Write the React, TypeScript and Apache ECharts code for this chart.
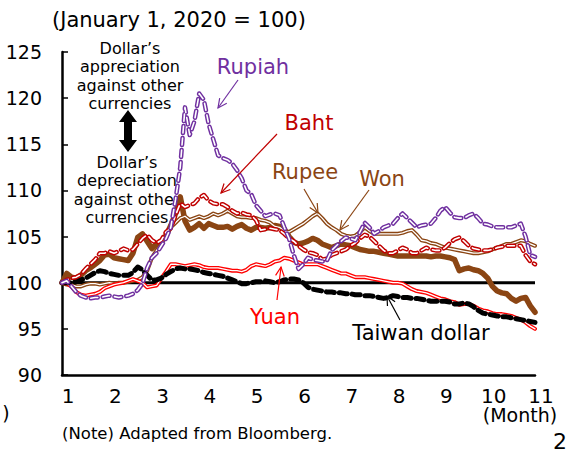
import React, { useEffect, useRef } from "react";
import * as echarts from "echarts";

const FONT = "DejaVu Sans";
const PURPLE = "#7030A0";
const DARKRED = "#C00000";
const RED = "#FF0000";
const BROWN = "#8B4513";

// x positions in months (1 = January 1)
const months: number[] = Array.from({ length: 101 }, (_, i) => +(1 + i * 0.1).toFixed(1));
const xTicks = [1, 2, 3, 4, 5, 6, 7, 8, 9, 10, 11];
const yTicks = [90, 95, 100, 105, 110, 115, 120, 125];

const rupiah = [
  100, 100.2, 99.6, 99, 98.6, 98.4, 98.3, 98.4, 98.4, 98.5,
  98.6, 98.5, 98.4, 98.5, 98.6, 98.8, 99.2, 99.9, 101.6, 102.7,
  103.2, 104, 104.8, 106, 109, 112.5, 119, 116, 117.5, 120.5,
  119.8, 117.2, 115.5, 113.8, 113.5, 113.3, 112.9, 112.2, 111.3, 110,
  109.6, 108.4, 107.8, 107.2, 107.4, 107.5, 107.3, 106, 104.8, 103,
  101.5, 102, 102.7, 102.5, 102.4, 102.3, 102.4, 103.5, 104, 104.5,
  104.9, 104.8, 104.6, 105.5, 106.5, 106, 105.3, 105.6, 106, 106.2,
  106.4, 107, 107.5, 107, 106.5, 106, 106.2, 106.3, 106.4, 107,
  107.8, 108.2, 107.6, 107.1, 107, 107, 107.3, 107.5, 107, 106.4,
  106.3, 106.1, 106, 106, 106, 106, 106.2, 106.4, 105, 103, 102.8,
];

const baht = [
  100, 100.3, 100.5, 100.6, 100.9, 101.5, 102, 102.5, 103.2, 103.2,
  103.4, 103.2, 103.4, 103.7, 103.5, 103.6, 104.2, 104.8, 105.2, 104.6,
  104.3, 104.6, 105.5, 105.9, 107.3, 108.6, 108.2, 108.4, 108.6, 109.2,
  109.5, 108.9, 108.6, 108.5, 108.5, 108.2, 107.8, 107.5, 107.6, 107.4,
  107.3, 106.8, 105.7, 105.8, 105.9, 105.8, 105.7, 105.3, 104.8, 104.5,
  104, 103.6, 103.3, 103.2, 103, 102.5, 102.6, 103, 103.2, 103.4,
  103.6, 104, 104.3, 104.8, 105.2, 105, 104.5, 104, 103.5, 103.2,
  103.2, 103.5, 103.8, 103.6, 103.2, 103.2, 103.5, 103.8, 103.6, 103.5,
  103.5, 103.8, 104.3, 104.7, 104.9, 104.5, 104, 103.7, 103.6, 103.5,
  103.5, 103.6, 103.8, 103.9, 104, 104, 104, 104, 103, 102.3, 102,
];

const won = [
  100, 101, 100.6, 100.5, 100.8, 101.3, 101.6, 102, 102.4, 103,
  103.1, 102.7, 102.6, 102.5, 102.4, 103.2, 104.9, 105.3, 104.5, 103.7,
  104.2, 104.5, 105.1, 106.2, 107.5, 109.3, 106.7, 105.7, 106, 106.4,
  105.9, 106.4, 106.2, 106, 106, 106.1, 105.8, 106.1, 106.3, 105.9,
  105.7, 106, 106, 105.9, 106, 106.2, 106.1, 105.8, 105, 104.4,
  104.2, 104.3, 104.5, 104.8, 104.6, 104.2, 104, 103.8, 104, 104.2,
  104.1, 104, 103.8, 103.6, 103.5, 103.4, 103.4, 103.3, 103.2, 103.1,
  103, 102.9, 102.9, 102.9, 102.9, 102.9, 102.9, 102.9, 102.8, 102.9,
  102.9, 102.8, 102.7, 102.5, 101.3, 101.5, 101.6, 101.4, 101.3, 101,
  100.5, 99.6, 99.1, 98.9, 98.8, 98.3, 98, 98.3, 98.4, 97.5, 96.8,
];

const rupee = [
  100, 99.8, 99.8, 99.6, 99.6, 99.8, 99.9, 99.9, 99.8, 99.9,
  100, 99.9, 100, 100, 100.1, 100.2, 100.3, 100.6, 101.3, 102.7,
  103.5, 104.2, 105.2, 106, 106.5, 107, 107.2, 106.8, 107, 107.2,
  107, 107.2, 107.5, 107.3, 107.5, 107.8, 107.5, 107.2, 107.1, 107.1,
  107, 107, 106.8, 106.7, 106.5, 106.1, 106, 105.6, 105.5, 105.8,
  106.1, 106.4, 106.8, 107.2, 107.5, 107, 106.4, 106, 105.7, 105.3,
  105.1, 105, 105.1, 105.5, 106, 105.6, 105.3, 105.3, 105.3, 105.3,
  105.3, 105.3, 105.4, 105.6, 105.7, 105.2, 104.6, 104.5, 104.3, 104.2,
  104, 103.8, 103.7, 103.6, 103.5, 103.4, 103.3, 103.2, 103.2, 103.3,
  103.4, 103.6, 103.8, 104, 104.2, 104.2, 104.4, 104.6, 104.5, 104.2, 104,
];

const yuan = [
  100, 99.9, 99.6, 99, 98.7, 98.6, 98.7, 98.8, 99, 99.4,
  99.6, 99.8, 99.9, 100, 100.2, 100.4, 100.2, 100, 99.5, 99.6,
  99.7, 100.5, 101.2, 102, 102, 101.9, 101.8, 101.9, 102, 101.9,
  101.7, 101.6, 101.6, 101.6, 101.5, 101.4, 101.3, 101.3, 101.2, 101.4,
  101.8, 102, 101.9, 101.8, 102, 102.3, 102.4, 102.7, 102.6, 102.4,
  102.2, 102, 102, 102, 102, 101.8, 101.6, 101.4, 101.2, 101,
  101, 100.8, 100.6, 100.6, 100.6, 100.5, 100.4, 100.3, 100.2, 100.1,
  100, 100, 99.9, 99.6, 99.3, 99.1, 99, 98.9, 98.7, 98.5,
  98.3, 98.2, 98, 97.9, 97.6, 97.7, 97.7, 97.5, 97.2, 97,
  96.9, 96.7, 96.6, 96.6, 96.5, 96.4, 96.2, 96, 95.7, 95.3, 95,
];

const taiwan = [
  100, 100, 100, 100.1, 100.3, 100.5, 100.8, 101.1, 101.3, 101.2,
  101, 100.9, 100.8, 100.8, 100.8, 101.1, 101.7, 101.4, 100.8, 100.3,
  100.3, 100.5, 100.9, 101.2, 101.5, 101.6, 101.5, 101.5, 101.4, 101.3,
  101.1, 101, 100.9, 100.8, 100.7, 100.5, 100.3, 100.1, 99.9, 99.9,
  100, 100.1, 100.1, 100.2, 100.1, 100, 100.1, 100.3, 100.4, 100.4,
  100.3, 100, 99.5, 99.3, 99.2, 99.1, 99, 99, 98.9, 98.9,
  98.8, 98.8, 98.7, 98.7, 98.6, 98.6, 98.5, 98.4, 98.3, 98.4,
  98.6, 98.5, 98.4, 98.4, 98.3, 98.3, 98.2, 98.1, 98, 98,
  98, 98, 97.9, 97.7, 97.7, 97.8, 97.7, 97.4, 97, 96.7,
  96.6, 96.5, 96.4, 96.3, 96.3, 96.2, 96.1, 96, 95.9, 95.8, 95.7,
];

const baseline = 100;

function pairs(vals: number[]) {
  return vals.map((v, i) => [months[i], v]);
}

function line(name: string, vals: number[], color: string, width: number, type: any = "solid", z = 2) {
  return {
    type: "line",
    name,
    data: pairs(vals),
    showSymbol: false,
    symbol: "none",
    silent: true,
    z,
    lineStyle: { color, width, type, cap: "round", join: "round" },
  };
}

function arrow(x1: number, y1: number, x2: number, y2: number, color: string) {
  const ang = Math.atan2(y2 - y1, x2 - x1);
  const L = 10;
  const a = 0.45;
  const p1 = [x2 - L * Math.cos(ang - a), y2 - L * Math.sin(ang - a)];
  const p2 = [x2 - L * Math.cos(ang + a), y2 - L * Math.sin(ang + a)];
  return [
    { type: "line", z: 10, shape: { x1, y1, x2, y2 }, style: { stroke: color, lineWidth: 1.2 } },
    { type: "polyline", z: 10, shape: { points: [p1, [x2, y2], p2] }, style: { stroke: color, lineWidth: 1.2, fill: null } },
  ];
}

function label(text: string, x: number, y: number, color: string, size = 21, extra: any = {}) {
  return {
    type: "text",
    x,
    y,
    z: 10,
    style: {
      text,
      fill: color,
      fontSize: size,
      fontFamily: FONT,
      textAlign: "center",
      textVerticalAlign: "middle",
      ...extra,
    },
  };
}

export default function App() {
  const ref = useRef<HTMLDivElement>(null);
  useEffect(() => {
    if (!ref.current) return;
    const chart = echarts.init(ref.current, undefined, { renderer: "svg" });
    const dash = [7, 5];
    const option: any = {
      animation: false,
      backgroundColor: "#ffffff",
      grid: { left: 62, right: 34, top: 52, bottom: 74, containLabel: false },
      xAxis: {
        type: "value",
        min: xTicks[0],
        max: xTicks[xTicks.length - 1],
        interval: 1,
        axisLine: { onZero: false, lineStyle: { color: "#000", width: 2.5 } },
        axisTick: { show: false },
        splitLine: { show: false },
        axisLabel: {
          color: "#000",
          fontSize: 20,
          fontFamily: FONT,
          margin: 11,
          padding: [0, 0, 0, 12],
          formatter: (v: number) => String(v),
        },
      },
      yAxis: {
        type: "value",
        min: yTicks[0],
        max: yTicks[yTicks.length - 1],
        interval: 5,
        axisLine: { show: true, lineStyle: { color: "#000", width: 2.5 } },
        axisTick: { show: true, inside: true, length: 6, lineStyle: { color: "#000", width: 1.5 } },
        splitLine: { show: false },
        axisLabel: { color: "#000", fontSize: 19, fontFamily: FONT, margin: 20 },
      },
      series: [
        {
          type: "line",
          data: [[xTicks[0], baseline], [xTicks[xTicks.length - 1], baseline]],
          showSymbol: false,
          symbol: "none",
          silent: true,
          z: 1,
          lineStyle: { color: "#000", width: 3 },
        },
        line("Won", won, BROWN, 5.5, "solid", 2),
        line("Rupee", rupee, BROWN, 4, "solid", 3),
        line("Rupee-in", rupee, "#ffffff", 1.3, "solid", 3),
        line("Yuan", yuan, RED, 4, "solid", 4),
        line("Yuan-in", yuan, "#ffffff", 1.3, "solid", 4),
        line("Taiwan dollar", taiwan, "#000", 5, [8, 5], 5),
        line("Baht", baht, DARKRED, 4.5, dash, 6),
        line("Baht-in", baht, "#ffffff", 1.6, dash, 6),
        line("Rupiah", rupiah, PURPLE, 4.5, dash, 7),
        line("Rupiah-in", rupiah, "#ffffff", 1.6, dash, 7),
      ],
      graphic: [
        {
          type: "text",
          x: 52,
          y: 20,
          style: {
            text: "(January 1, 2020 = 100)",
            fill: "#000",
            fontSize: 21,
            fontFamily: FONT,
            textAlign: "left",
            textVerticalAlign: "middle",
          },
        },
        {
          type: "text",
          x: 130,
          y: 39,
          z: 0,
          style: {
            text: "Dollar’s\nappreciation\nagainst other\ncurrencies",
            fill: "#000",
            fontSize: 16,
            lineHeight: 18.5,
            fontFamily: FONT,
            textAlign: "center",
            textVerticalAlign: "top",
          },
        },
        {
          type: "text",
          x: 127,
          y: 153,
          z: 0,
          style: {
            text: "Dollar’s\ndepreciation\nagainst other\ncurrencies",
            fill: "#000",
            fontSize: 16,
            lineHeight: 18.5,
            fontFamily: FONT,
            textAlign: "center",
            textVerticalAlign: "top",
          },
        },
        {
          type: "polygon",
          z: 0,
          shape: {
            points: [
              [128, 110], [137, 122], [132, 122], [132, 140], [137, 140],
              [128, 152], [119, 140], [124, 140], [124, 122], [119, 122],
            ],
          },
          style: { fill: "#000" },
        },
        label("Rupiah", 253, 67, PURPLE),
        ...arrow(238, 80, 218, 108, PURPLE),
        label("Baht", 309, 123, DARKRED),
        ...arrow(277, 134, 221, 193, DARKRED),
        label("Rupee", 305, 172, BROWN),
        ...arrow(304, 189, 318, 213, BROWN),
        label("Won", 382, 179, BROWN),
        ...arrow(369, 190, 340, 230, BROWN),
        label("Yuan", 275, 317, RED),
        ...arrow(277, 300, 281, 267, RED),
        label("Taiwan dollar", 421, 333, "#000"),
        ...arrow(400, 320, 387, 296, "#000"),
        label("(Month)", 520, 415, "#000", 19),
        label(")", 6, 413, "#000", 19),
        label("(Note) Adapted from Bloomberg.", 62, 433, "#000", 16.5, { textAlign: "left" }),
        label("2", 553, 430, "#000", 22, { textAlign: "left", textVerticalAlign: "top" }),
      ],
    };
    chart.setOption(option);
    return () => chart.dispose();
  }, []);
  return (
    <div
      ref={ref}
      style={{ position: "fixed", left: 0, top: 0, width: 569, height: 449, background: "#fff" }}
    />
  );
}
